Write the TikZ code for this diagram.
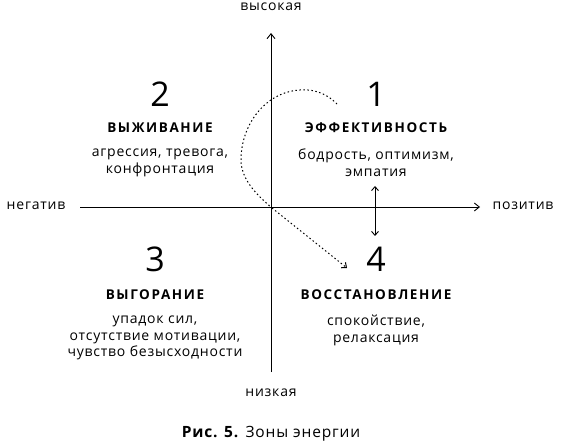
\documentclass[tikz,border=0pt]{standalone}
\usepackage{fontspec}
\setmainfont{Open Sans}
\newfontfamily\bodyfont[LetterSpace=5.5]{Open Sans}
\newfontfamily\headfont[LetterSpace=12]{Open Sans}
\usetikzlibrary{arrows.meta}
\begin{document}
\begin{tikzpicture}[x=1pt,y=-1pt,
  lbl/.style={font=\bodyfont\fontsize{14}{16.8}\selectfont, align=center, inner sep=0pt},
  head/.style={font=\headfont\fontsize{13.5}{16}\selectfont\bfseries, inner sep=0pt},
  num/.style={font=\fontsize{34}{36}\selectfont, inner sep=0pt},
  axis/.style={line width=0.9pt, -{Straight Barb[length=5pt,width=8pt]}},
  dots/.style={line width=1pt, dash pattern=on 1.5pt off 2.5pt}]
\useasboundingbox (0,0) rectangle (562,443);
% axes
\coordinate (O) at (271,207);
\coordinate (vb) at (271,372);
\coordinate (vt) at (271,33);
\coordinate (hl) at (80,207);
\coordinate (hr) at (480,207);
\draw[axis] (vb) -- (vt);
\draw[axis] (hl) -- (hr);
\node[lbl] (high) at (271,7) {высокая};
\node[lbl] (low) at (271,393) {низкая};
\node[lbl] (neg) at (36,206) {негатив};
\node[lbl] (pos) at (523,206) {позитив};
% quadrant 2
\node[num] (n2) at (160,94) {2};
\node[head] (h2) at (160,128) {ВЫЖИВАНИЕ};
\node[lbl] (t2) at (160,163) {агрессия, тревога,\\конфронтация};
% quadrant 1
\node[num] (n1) at (376,94) {1};
\node[head] (h1) at (376,128) {ЭФФЕКТИВНОСТЬ};
\node[lbl] (t1) at (376,163) {бодрость, оптимизм,\\эмпатия};
% quadrant 3
\node[num] (n3) at (155,259) {3};
\node[head] (h3) at (155,295) {ВЫГОРАНИЕ};
\node[lbl] (t3) at (155,338) {упадок сил,\\отсутствие мотивации,\\чувство безысходности};
% quadrant 4
\node[num] (n4) at (376,259) {4};
\node[head] (h4) at (376,295) {ВОССТАНОВЛЕНИЕ};
\node[lbl] (t4) at (376,330) {спокойствие,\\релаксация};
% double arrow
\coordinate (da) at (375,186);
\coordinate (db) at (375,236);
\draw[line width=0.9pt, {Straight Barb[length=4pt,width=7pt]}-{Straight Barb[length=4pt,width=7pt]}] (da) -- (db);
% dotted curve
\coordinate (c0) at (337,104);
\coordinate (c1) at (300,90);
\coordinate (c2) at (241,160);
\coordinate (c3) at (272,208);
\coordinate (c4) at (347,268);
\draw[dots] (c0) .. controls (325,92) and (312,89) .. (c1)
  .. controls (265,92) and (241,125) .. (c2)
  .. controls (241,180) and (258,196) .. (c3);
\draw[dots, -{Straight Barb[length=4pt,width=7pt]}] (c3) -- (c4);
% caption
\node[inner sep=0pt, font=\bodyfont\fontsize{15.5}{18}\selectfont] (cap) at (271,434) {\textbf{Рис. 5.} Зоны энергии};
\end{tikzpicture}
\end{document}
